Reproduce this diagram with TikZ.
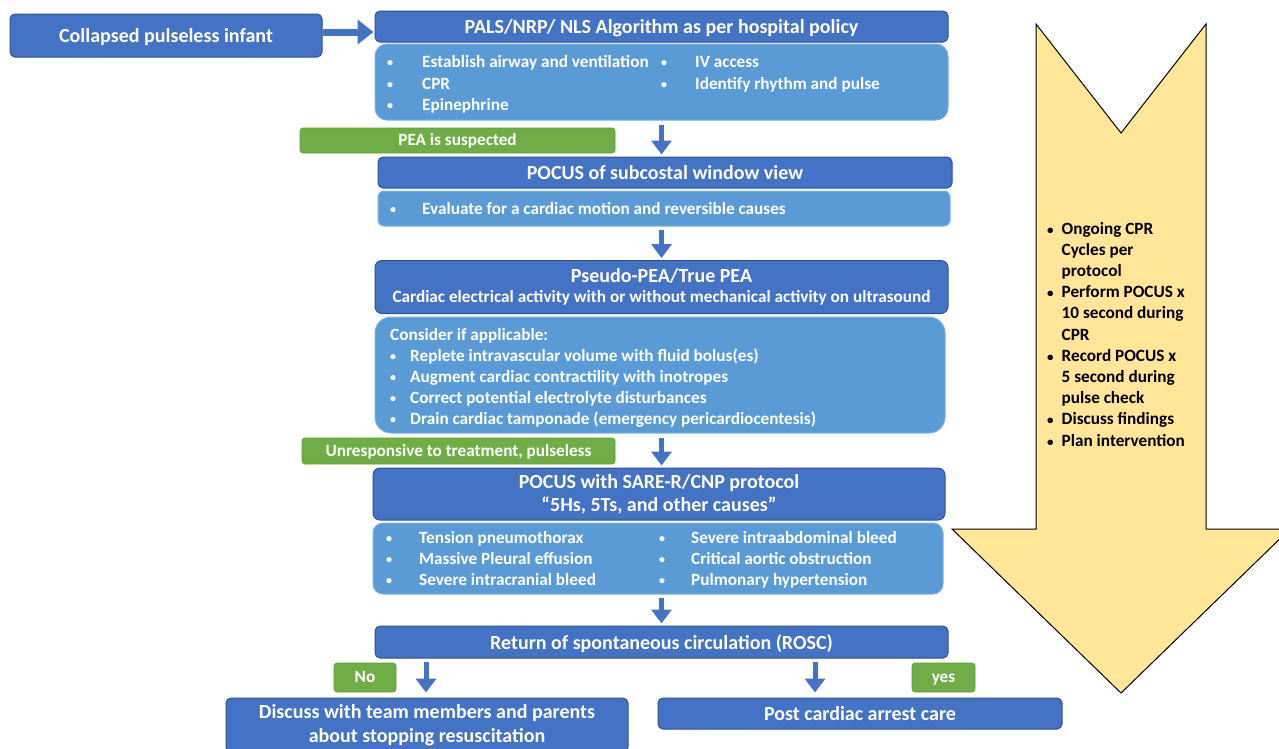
\documentclass[tikz,border=0pt]{standalone}
\usepackage{fontspec}
\setmainfont{Carlito}
\usetikzlibrary{arrows.meta}
\definecolor{dblue}{HTML}{4472C4}
\definecolor{dborder}{HTML}{2F528F}
\definecolor{lblue}{HTML}{5B9BD5}
\definecolor{lborder}{HTML}{7FB0DF}
\definecolor{gr}{HTML}{70AD47}
\definecolor{grb}{HTML}{5E9B3A}
\definecolor{yel}{HTML}{FFE699}
\tikzset{
  headbox/.style={draw=dborder, fill=dblue, rounded corners=5pt, line width=1pt, text=white,
    font=\fontsize{20}{23}\selectfont\bfseries, align=center, inner sep=0pt},
  onehead/.style={headbox, text height=16pt, text depth=2pt},
  lbox/.style={draw=lborder, fill=lblue, rounded corners=12pt, line width=1pt, inner sep=0pt},
  gbox/.style={draw=grb, fill=gr, rounded corners=3pt, line width=0.6pt, text=white,
    font=\fontsize{17.2}{20}\selectfont\bfseries, inner sep=0pt, text height=13.5pt, text depth=3.5pt},
  itm/.style={text=white, font=\fontsize{17.2}{20}\selectfont\bfseries, anchor=west, inner sep=0pt,
    text height=15.5pt, text depth=3pt},
  bul/.style={text=white, font=\fontsize{12}{14}\selectfont\bfseries, anchor=base, inner sep=0pt, yshift=-5pt},
  arr/.style={draw=dblue, line width=5pt, -{Triangle[length=14pt,width=20pt]}},
  bigarr/.style={draw=dblue, line width=7pt, -{Triangle[length=16pt,width=24pt]}},
}
\begin{document}
\begin{tikzpicture}[x=1pt,y=-1pt]
\useasboundingbox (0,0) rectangle (1279,748);

% yellow arrow
\begin{scope}
\clip (0,0) rectangle (1279,748);
\draw[fill=yel, draw=black, line width=1pt, line join=miter]
  (1036,24) -- (1121,133) -- (1206,24) -- (1206,529) -- (1290,529) -- (1121,693)
  -- (952,529) -- (1036,529) -- cycle;
\end{scope}
\node[anchor=north west, inner sep=0pt, font=\fontsize{17.2}{21.2}\selectfont\bfseries, text=black] (yeltext) at (1047,219)
 {\begin{tabular}{@{}l@{\hspace{8pt}}l@{}}
 {\fontsize{13}{14}\selectfont •} & Ongoing CPR\\
   & Cycles per\\
   & protocol\\
 {\fontsize{13}{14}\selectfont •} & Perform POCUS x\\
   & 10 second during\\
   & CPR\\
 {\fontsize{13}{14}\selectfont •} & Record POCUS x\\
   & 5 second during\\
   & pulse check\\
 {\fontsize{13}{14}\selectfont •} & Discuss findings\\
 {\fontsize{13}{14}\selectfont •} & Plan intervention
 \end{tabular}};

% boxes
\node[onehead, minimum width=312pt, minimum height=43pt] (coll) at (166,35.5) {Collapsed pulseless infant};
\node[onehead, minimum width=573pt, minimum height=31pt] (pals) at (661.5,26.5) {PALS/NRP/ NLS Algorithm as per hospital policy};
\node[lbox, minimum width=573pt, minimum height=76pt] (palsL) at (661.5,82) {};
\node[bul] (b1) at (390,61) {•}; \node[itm] (t1) at (422,61) {Establish airway and ventilation};
\node[bul] (b2) at (390,83) {•}; \node[itm] (t2) at (422,83) {CPR};
\node[bul] (b3) at (390,104) {•}; \node[itm] (t3) at (422,104) {Epinephrine};
\node[bul] (b4) at (664,61) {•}; \node[itm] (t4) at (695,61) {IV access};
\node[bul] (b5) at (664,83) {•}; \node[itm] (t5) at (695,83) {Identify rhythm and pulse};

\node[gbox, minimum width=315pt, minimum height=25pt] (pea) at (457.5,140.5) {PEA is suspected};

\node[onehead, minimum width=574pt, minimum height=31pt] (pocus1) at (665,172.5) {POCUS of subcostal window view};
\node[lbox, rounded corners=6pt, minimum width=572pt, minimum height=35pt] (pocus1L) at (664,208.5) {};
\node[bul] (b6) at (393,208) {•}; \node[itm] (t6) at (422,208) {Evaluate for a cardiac motion and reversible causes};

\node[headbox, rounded corners=7pt, minimum width=573pt, minimum height=53pt] (pseudo) at (661.5,287)
 {Pseudo-PEA/True PEA\\[-3pt]{\fontsize{17.2}{20}\selectfont Cardiac electrical activity with or without mechanical activity on ultrasound}};

\node[lbox, rounded corners=16pt, minimum width=570pt, minimum height=116pt] (consider) at (660,375) {};
\node[itm] (t7) at (390,334) {Consider if applicable:};
\node[bul] (b8) at (393,355) {•}; \node[itm] (t8) at (410,355) {Replete intravascular volume with fluid bolus(es)};
\node[bul] (b9) at (393,376) {•}; \node[itm] (t9) at (410,376) {Augment cardiac contractility with inotropes};
\node[bul] (b10) at (393,397) {•}; \node[itm] (t10) at (410,397) {Correct potential electrolyte disturbances};
\node[bul] (b11) at (393,418) {•}; \node[itm] (t11) at (410,418) {Drain cardiac tamponade (emergency pericardiocentesis)};

\node[gbox, minimum width=313pt, minimum height=26pt] (unresp) at (458.5,451) {Unresponsive to treatment, pulseless};

\node[headbox, rounded corners=7pt, minimum width=572pt, minimum height=52pt] (sare) at (659,494)
 {POCUS with SARE-R/CNP protocol\\[0pt]“5Hs, 5Ts, and other causes”};
\node[lbox, rounded corners=10pt, minimum width=570pt, minimum height=71pt] (sareL) at (658,558.5) {};
\node[bul] (b12) at (389,537) {•}; \node[itm] (t12) at (419,537) {Tension pneumothorax};
\node[bul] (b13) at (389,558) {•}; \node[itm] (t13) at (419,558) {Massive Pleural effusion};
\node[bul] (b14) at (389,579) {•}; \node[itm] (t14) at (419,579) {Severe intracranial bleed};
\node[bul] (b15) at (662,537) {•}; \node[itm] (t15) at (691,537) {Severe intraabdominal bleed};
\node[bul] (b16) at (662,558) {•}; \node[itm] (t16) at (691,558) {Critical aortic obstruction};
\node[bul] (b17) at (662,579) {•}; \node[itm] (t17) at (691,579) {Pulmonary hypertension};

\node[onehead, minimum width=573pt, minimum height=32pt] (rosc) at (661.5,642) {Return of spontaneous circulation (ROSC)};

\node[gbox, minimum width=62pt, minimum height=29pt] (no) at (365,677.5) {No};
\node[gbox, minimum width=63pt, minimum height=29pt] (yes) at (943.5,677.5) {yes};

\node[headbox, minimum width=402pt, minimum height=54pt] (discuss) at (427,725)
 {Discuss with team members and parents\\[1pt]about stopping resuscitation};
\node[onehead, minimum width=404pt, minimum height=31pt] (post) at (860,713.5) {Post cardiac arrest care};

% connectors
\coordinate (ay) at (0,32);
\coordinate (nox) at (426,0);
\coordinate (yesx) at (815,0);
\draw[bigarr, shorten >=1pt] (coll.east |- ay) -- (pals.west |- ay);
\draw[arr, shorten <=4pt, shorten >=2pt] (palsL.south) -- (palsL.south |- pocus1.north);
\draw[arr, shorten <=3pt, shorten >=2pt] (pocus1L.south -| palsL.south) -- (palsL.south |- pseudo.north);
\draw[arr, shorten <=4pt, shorten >=2pt] (consider.south -| palsL.south) -- (palsL.south |- sare.north);
\draw[arr, shorten <=3pt, shorten >=2pt] (sareL.south -| palsL.south) -- (palsL.south |- rosc.north);
\draw[arr, shorten <=3pt, shorten >=5pt] (rosc.south -| nox) -- (discuss.north -| nox);
\draw[arr, shorten <=3pt, shorten >=5pt] (rosc.south -| yesx) -- (post.north -| yesx);
\end{tikzpicture}
\end{document}
